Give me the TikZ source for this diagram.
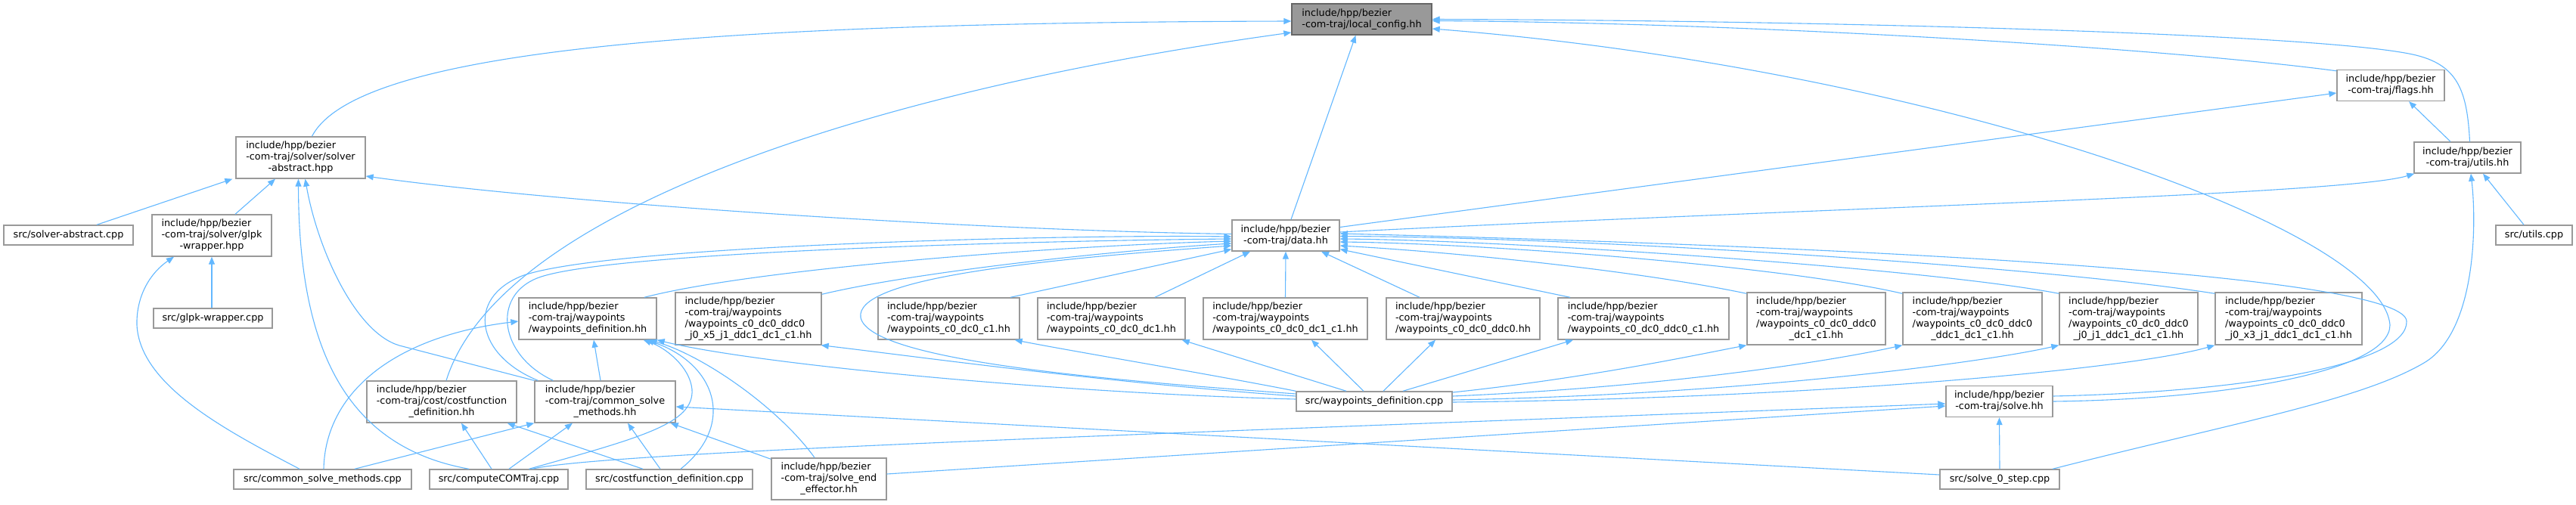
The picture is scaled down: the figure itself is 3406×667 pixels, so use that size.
\documentclass[tikz,border=0pt]{standalone}
\usepackage{fontspec}
\setmainfont{DejaVu Sans}
\usetikzlibrary{arrows.meta}
\definecolor{edgeblue}{HTML}{63B8FF}
\definecolor{boxgray}{HTML}{999999}
\definecolor{rootfill}{HTML}{999999}
\definecolor{rootdraw}{HTML}{666666}
\newcommand{\onel}[1]{\begin{tabular}{@{}c@{}}#1\end{tabular}}
\newcommand{\twol}[2]{\begin{tabular}{@{}l@{}}#1\\\multicolumn{1}{@{}c@{}}{#2}\end{tabular}}
\newcommand{\threel}[3]{\begin{tabular}{@{}l@{}}#1\\#2\\\multicolumn{1}{@{}c@{}}{#3}\end{tabular}}
\newcommand{\fourl}[4]{\begin{tabular}{@{}l@{}}#1\\#2\\#3\\\multicolumn{1}{@{}c@{}}{#4}\end{tabular}}
\begin{document}
\begin{tikzpicture}[x=1pt,y=-1pt,
  box/.style={draw=boxgray, line width=1.4pt, fill=white, inner sep=0pt, font=\fontsize{12.8}{15}\selectfont},
  root/.style={draw=rootdraw, fill=rootfill},
  edge/.style={draw=edgeblue, line width=1.1pt, -{Triangle[length=10pt,width=8pt]}}]
\fill[white] (0,0) rectangle (3406,667);
\useasboundingbox (0,0) rectangle (3406,667);

% nodes
\node[box,root,minimum width=185pt,minimum height=41pt] (LC) at (1800.5,25.5) {\twol{include/hpp/bezier}{-com-traj/local\_config.hh}};
\node[box,minimum width=142pt,minimum height=41pt] (FL) at (3161,113) {\twol{include/hpp/bezier}{-com-traj/flags.hh}};
\node[box,minimum width=141pt,minimum height=41pt] (UT) at (3262.5,208.5) {\twol{include/hpp/bezier}{-com-traj/utils.hh}};
\node[box,minimum width=101pt,minimum height=26pt] (UTC) at (3350.5,311) {\onel{src/utils.cpp}};
\node[box,minimum width=142pt,minimum height=41pt] (D) at (1700,311.5) {\twol{include/hpp/bezier}{-com-traj/data.hh}};
\node[box,minimum width=171pt,minimum height=55pt] (SA) at (397.5,208.5) {\threel{include/hpp/bezier}{-com-traj/solver/solver}{-abstract.hpp}};
\node[box,minimum width=171pt,minimum height=26pt] (SAC) at (90.5,311) {\onel{src/solver-abstract.cpp}};
\node[box,minimum width=158pt,minimum height=55pt] (GW) at (280,311.5) {\threel{include/hpp/bezier}{-com-traj/solver/glpk}{-wrapper.hpp}};
\node[box,minimum width=157pt,minimum height=26pt] (GWC) at (281.5,421) {\onel{src/glpk-wrapper.cpp}};
\node[box,minimum width=182pt,minimum height=55pt] (WD) at (777,421.5) {\threel{include/hpp/bezier}{-com-traj/waypoints}{/waypoints\_definition.hh}};
\node[box,minimum width=198pt,minimum height=55pt] (CF) at (584,531.5) {\threel{include/hpp/bezier}{-com-traj/cost/costfunction}{\_definition.hh}};
\node[box,minimum width=186pt,minimum height=55pt] (CSM) at (800,531.5) {\threel{include/hpp/bezier}{-com-traj/common\_solve}{\_methods.hh}};
\node[box,minimum width=235pt,minimum height=26pt] (CSMC) at (426.5,634) {\onel{src/common\_solve\_methods.cpp}};
\node[box,minimum width=183pt,minimum height=26pt] (CCT) at (659.5,634) {\onel{src/computeCOMTraj.cpp}};
\node[box,minimum width=220pt,minimum height=26pt] (CFC) at (885,634) {\onel{src/costfunction\_definition.cpp}};
\node[box,minimum width=152pt,minimum height=55pt] (SEE) at (1096,633.5) {\threel{include/hpp/bezier}{-com-traj/solve\_end}{\_effector.hh}};
\node[box,minimum width=193pt,minimum height=69pt] (W1) at (989.5,421.5) {\fourl{include/hpp/bezier}{-com-traj/waypoints}{/waypoints\_c0\_dc0\_ddc0}{\_j0\_x5\_j1\_ddc1\_dc1\_c1.hh}};
\node[box,minimum width=187pt,minimum height=55pt] (W2) at (1254.5,421.5) {\threel{include/hpp/bezier}{-com-traj/waypoints}{/waypoints\_c0\_dc0\_c1.hh}};
\node[box,minimum width=195pt,minimum height=55pt] (W3) at (1469.5,421.5) {\threel{include/hpp/bezier}{-com-traj/waypoints}{/waypoints\_c0\_dc0\_dc1.hh}};
\node[box,minimum width=217pt,minimum height=55pt] (W4) at (1699.5,421.5) {\threel{include/hpp/bezier}{-com-traj/waypoints}{/waypoints\_c0\_dc0\_dc1\_c1.hh}};
\node[box,minimum width=203pt,minimum height=55pt] (W5) at (1934.5,421.5) {\threel{include/hpp/bezier}{-com-traj/waypoints}{/waypoints\_c0\_dc0\_ddc0.hh}};
\node[box,minimum width=226pt,minimum height=55pt] (W6) at (2173,421.5) {\threel{include/hpp/bezier}{-com-traj/waypoints}{/waypoints\_c0\_dc0\_ddc0\_c1.hh}};
\node[box,minimum width=183pt,minimum height=69pt] (W7) at (2401.5,421.5) {\fourl{include/hpp/bezier}{-com-traj/waypoints}{/waypoints\_c0\_dc0\_ddc0}{\_dc1\_c1.hh}};
\node[box,minimum width=184pt,minimum height=69pt] (W8) at (2608,421.5) {\fourl{include/hpp/bezier}{-com-traj/waypoints}{/waypoints\_c0\_dc0\_ddc0}{\_ddc1\_dc1\_c1.hh}};
\node[box,minimum width=183pt,minimum height=69pt] (W9) at (2814.5,421.5) {\fourl{include/hpp/bezier}{-com-traj/waypoints}{/waypoints\_c0\_dc0\_ddc0}{\_j0\_j1\_ddc1\_dc1\_c1.hh}};
\node[box,minimum width=194pt,minimum height=69pt] (W10) at (3026,421.5) {\fourl{include/hpp/bezier}{-com-traj/waypoints}{/waypoints\_c0\_dc0\_ddc0}{\_j0\_x3\_j1\_ddc1\_dc1\_c1.hh}};
\node[box,minimum width=206pt,minimum height=26pt] (WPC) at (1817,531) {\onel{src/waypoints\_definition.cpp}};
\node[box,minimum width=141pt,minimum height=41pt] (SV) at (2643.5,531) {\twol{include/hpp/bezier}{-com-traj/solve.hh}};
\node[box,minimum width=158pt,minimum height=26pt] (S0) at (2644,634) {\onel{src/solve\_0\_step.cpp}};

% edges into local_config
\draw[edge] ([xshift=15pt]SA.north) .. controls (470,70) and (900,30) .. ([yshift=-2.5pt]LC.west);
\draw[edge] ([xshift=6pt]CF.north) .. controls (660,280) and (1150,120) .. ([yshift=-17.5pt]LC.west);
\draw[edge] ([xshift=7pt]D.north) -- ([xshift=-8pt]LC.south);
\draw[edge] ([yshift=-2pt]FL.north west) .. controls (2850,62) and (2300,30) .. ([yshift=-2pt]LC.east);
\draw[edge] ([xshift=3pt]UT.north) .. controls (3262,120) and (3250,85) .. (3190,72) .. controls (3060,44) and (2400,27) .. (LC.east);
\draw[edge] (SV.east) .. controls (2950,528) and (3160,490) .. (3160,430) .. controls (3150,300) and (2550,90) .. ([yshift=-12.5pt]LC.east);

% flags / utils
\draw[edge] ([yshift=11pt]D.east) -- ([yshift=-10pt]FL.west);
\draw[edge] ([yshift=4.5pt]D.east) .. controls (2400,275) and (3100,258) .. ([xshift=1pt]UT.south west);
\draw[edge] ([xshift=-22.5pt]UT.north) -- ([xshift=24pt]FL.south);
\draw[edge] ([xshift=-13.5pt]UTC.north) -- ([xshift=20.5pt]UT.south);
\draw[edge] ([xshift=70pt]S0.north) .. controls (2950,560) and (3120,530) .. (3205,480) .. controls (3273,440) and (3275,300) .. ([xshift=4.5pt]UT.south);

% solve.hh
\draw[edge] (S0.north) -- (SV.south);
\draw[edge] ([yshift=7pt]SV.east) .. controls (2980,518) and (3184,480) .. (3182,425) .. controls (3180,370) and (2600,330) .. ([yshift=2.5pt]D.east);
\draw[edge] ([xshift=44pt]CCT.north) .. controls (800,598) and (1500,575) .. ([yshift=-3pt]SV.west);
\draw[edge] ([yshift=6.5pt]SEE.east) -- ([yshift=-6pt]SV.west);

% common_solve_methods.hh
\draw[edge] ([yshift=6pt]S0.west) -- ([yshift=-6.5pt]CSM.east);
\draw[edge] ([yshift=-2pt]SEE.north west) -- ([xshift=-7pt]CSM.south east);
\draw[edge] ([xshift=-12pt]CFC.north) -- ([xshift=30pt]CSM.south);
\draw[edge] ([xshift=13.5pt]CCT.north) -- ([xshift=-43pt]CSM.south);
\draw[edge] ([xshift=42.5pt]CSMC.north) -- (CSM.south west);

% costfunction_definition.hh
\draw[edge] ([xshift=-35pt]CFC.north) -- ([xshift=-13pt]CF.south east);
\draw[edge] ([xshift=-9.5pt]CCT.north) -- ([xshift=26pt]CF.south);

% waypoints_definition.hh
\draw[edge] ([xshift=-19pt]SEE.north) .. controls (1030,540) and (930,470) .. ([xshift=-10pt]WD.south east);
\draw[edge] ([xshift=15pt]CFC.north) .. controls (975,560) and (945,480) .. ([xshift=-14pt]WD.south east);
\draw[edge] ([xshift=40pt]CCT.north) .. controls (850,578) and (918,560) .. (915,515) .. controls (912,485) and (880,460) .. ([xshift=-18pt]WD.south east);
\draw[edge] ([xshift=1.5pt]CSMC.north) .. controls (430,520) and (520,445) .. ([yshift=-3.5pt]WD.west);
\draw[edge] ([xshift=-6pt]CSM.north) -- ([xshift=8pt]WD.south);
\draw[edge] ([yshift=3pt]WPC.west) .. controls (1400,520) and (1000,482) .. (WD.south east);

% solver-abstract / glpk
\draw[edge] ([xshift=-39.5pt]CCT.north) .. controls (450,590) and (395,450) .. ([xshift=-3pt]SA.south);
\draw[edge] (CSM.north west) -- (528,457) .. controls (470,440) and (420,330) .. ([xshift=6pt]SA.south);
\draw[edge] ([xshift=-30.5pt]CSMC.north) .. controls (300,570) and (185,510) .. (181,430) .. controls (180,390) and (200,360) .. ([xshift=-50pt]GW.south);
\draw[edge] ([xshift=-1.5pt]GWC.north) -- (GW.south);
\draw[edge] ([xshift=31pt]GW.north) -- ([xshift=-33.5pt]SA.south);
\draw[edge] ([xshift=37.5pt]SAC.north) -- ([xshift=-4pt]SA.south west);
\draw[edge] ([yshift=2pt]D.west) .. controls (1300,305) and (750,270) .. ([yshift=-24.5pt]SA.east);

% into data.hh from the left
\draw[edge] ([xshift=5pt]CSM.north west) .. controls (630,470) and (615,395) .. (690,365) .. controls (800,325) and (1400,310) .. ([yshift=-1.5pt]D.west);
\draw[edge] ([xshift=25pt]CSM.north west) .. controls (660,470) and (650,392) .. (710,368) .. controls (800,332) and (1400,318) .. ([yshift=-4.5pt]D.west);
\draw[edge] ([xshift=75pt]WD.north) .. controls (1000,355) and (1400,325) .. ([yshift=-7.5pt]D.west);
\draw[edge] ([yshift=-3pt]W1.north east) .. controls (1200,362) and (1450,333) .. ([yshift=-10.5pt]D.west);
\draw[edge] ([yshift=10pt]WPC.west) .. controls (1500,505) and (1150,480) .. (1138,420) .. controls (1130,370) and (1350,345) .. ([yshift=-13.5pt]D.west);
\draw[edge] ([xshift=81.5pt]W2.north) -- ([yshift=3pt]D.south west);
\draw[edge] ([xshift=57.5pt]W3.north) -- ([xshift=-47pt]D.south);
\draw[edge] (W4.north) -- (D.south);
\draw[edge] ([xshift=-57.5pt]W5.north) -- ([xshift=47pt]D.south);
\draw[edge] ([xshift=-97pt]W6.north) -- ([yshift=3pt]D.south east);
\draw[edge] ([yshift=-2pt]W7.north west) .. controls (2150,355) and (1900,332) .. ([yshift=-13.5pt]D.east);
\draw[edge] ([yshift=-2pt]W8.north west) .. controls (2350,350) and (1950,322) .. ([yshift=-8.5pt]D.east);
\draw[edge] ([yshift=-2pt]W9.north west) .. controls (2550,355) and (2000,318) .. ([yshift=-4.5pt]D.east);
\draw[edge] ([yshift=-2pt]W10.north west) .. controls (2700,352) and (2100,314) .. ([yshift=-1pt]D.east);

% src/waypoints_definition.cpp to waypoint headers
\draw[edge] ([yshift=7pt]WPC.west) .. controls (1450,505) and (1200,470) .. ([xshift=-1pt]W1.south east);
\draw[edge] (WPC.north west) .. controls (1600,495) and (1420,465) .. ([xshift=-7pt]W2.south east);
\draw[edge] ([xshift=-37pt]WPC.north) -- ([xshift=-5pt]W3.south east);
\draw[edge] ([xshift=-14pt]WPC.north) -- ([xshift=34.5pt]W4.south);
\draw[edge] ([xshift=12pt]WPC.north) -- ([xshift=-36.5pt]W5.south);
\draw[edge] ([xshift=38pt]WPC.north) -- ([xshift=-93pt]W6.south);
\draw[edge] ([yshift=12pt]WPC.east) .. controls (2100,500) and (2240,470) .. (W7.south west);
\draw[edge] ([yshift=7pt]WPC.east) .. controls (2200,512) and (2420,478) .. (W8.south west);
\draw[edge] ([yshift=2pt]WPC.east) .. controls (2300,522) and (2620,480) .. (W9.south west);
\draw[edge] ([yshift=-1pt]WPC.east) .. controls (2400,527) and (2820,488) .. (W10.south west);
\end{tikzpicture}
\end{document}
